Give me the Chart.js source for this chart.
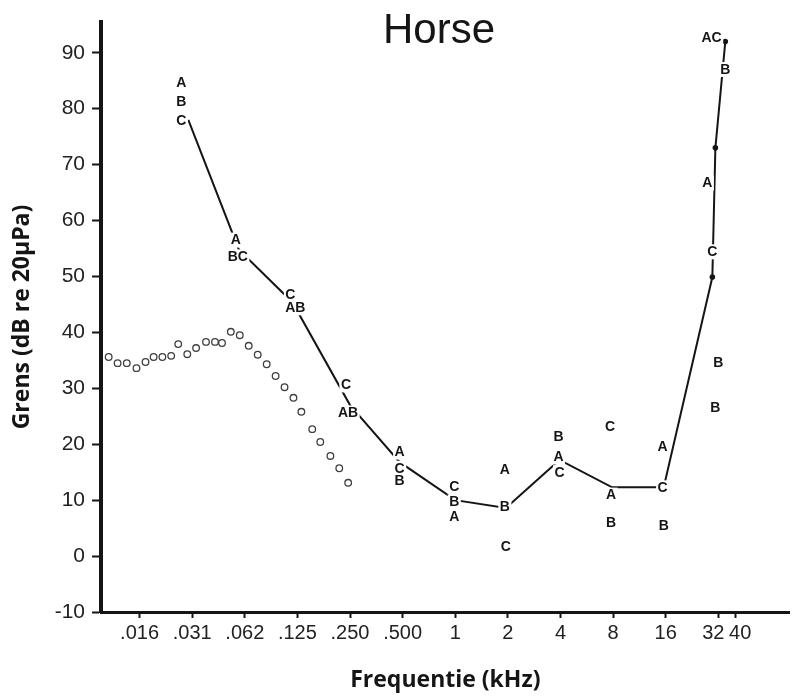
<!DOCTYPE html>
<html>
<head>
<meta charset="utf-8">
<script src="https://cdn.jsdelivr.net/npm/chart.js@4/dist/chart.umd.min.js"></script>
<style>
  html, body { margin: 0; padding: 0; background: #ffffff; }
  #wrap { width: 795px; height: 697px; }
</style>
</head>
<body>
<div id="wrap"><canvas id="c" width="795" height="697"></canvas></div>
<script>
// ---- data (kHz, dB re 20 µPa) ----
const chartTitle = 'Horse';
const xTitle = 'Frequentie (kHz)';
const yTitle = 'Grens (dB re 20µPa)';

const freqTicks = [0.015625, 0.03125, 0.0625, 0.125, 0.25, 0.5, 1, 2, 4, 8, 16, 32, 40];
const freqTickLabels = ['.016', '.031', '.062', '.125', '.250', '.500', '1', '2', '4', '8', '16', '32\u2002', '\u200240'];
const dbTicks = [-10, 0, 10, 20, 30, 40, 50, 60, 70, 80, 90];

// connected audiogram line
const lineFreq = [0.0297, 0.0578, 0.117, 0.25, 0.481, 1.0, 1.95, 3.95, 7.9, 15.6, 29.6, 30.8, 35.1];
const lineDb   = [78.0, 54.8, 45.4, 27.0, 16.8, 10.0, 8.6, 17.2, 12.3, 12.3, 49.9, 73.0, 92.0];

// open-circle series
const circleFreq = [0.0104, 0.0117, 0.0132, 0.0150, 0.0169, 0.0188, 0.0211, 0.0237, 0.0260, 0.0293,
                    0.0329, 0.0375, 0.0422, 0.0463, 0.0520, 0.0585, 0.0658, 0.0741, 0.0834, 0.0938,
                    0.1055, 0.1187, 0.1317, 0.152, 0.169, 0.193, 0.217, 0.244];
const circleDb   = [35.6, 34.5, 34.5, 33.6, 34.7, 35.6, 35.6, 35.8, 37.9, 36.1,
                    37.2, 38.3, 38.3, 38.1, 40.1, 39.5, 37.6, 36.0, 34.3, 32.2,
                    30.2, 28.3, 25.8, 22.7, 20.4, 17.9, 15.7, 13.1];

// individual animals (A, B, C)
const letterText = ['A', 'B', 'C',  'A', 'BC',  'C', 'AB',  'C', 'AB',  'A', 'C', 'B',
                    'C', 'B', 'A',  'A', 'B', 'C',  'B', 'A', 'C',  'C', 'A', 'B',
                    'A', 'C', 'B',  'AC', 'B', 'A', 'C', 'B', 'B'];
const letterFreq = [0.0271, 0.0271, 0.0271,  0.0556, 0.057,  0.114, 0.1217,  0.237, 0.2436,  0.481, 0.481, 0.481,
                    0.987, 0.987, 0.987,  1.923, 1.923, 1.95,  3.90, 3.90, 3.95,  7.7, 7.79, 7.79,
                    15.38, 15.38, 15.6,  29.3, 35.1, 27.7, 29.6, 32.0, 30.8];
const letterDb   = [84.6, 81.2, 77.8,  56.5, 53.5,  46.7, 44.4,  30.6, 25.6,  18.6, 15.7, 13.4,
                    12.5, 9.7, 7.0,  15.4, 8.8, 1.6,  21.3, 17.7, 14.9,  23.1, 10.9, 5.9,
                    19.5, 12.2, 5.4,  92.7, 87.0, 66.7, 54.4, 34.5, 26.5];

// ---- drawing ----
const ink = '#151515';

const overlayPlugin = {
  id: 'overlay',
  afterDatasetsDraw(chart) {
    const { ctx, scales } = chart;
    const xs = scales.x, ys = scales.y;
    ctx.save();
    ctx.font = 'bold 14px "Liberation Sans", Arial, sans-serif';
    ctx.textAlign = 'center';
    ctx.textBaseline = 'middle';
    letterText.forEach((t, i) => {
      const px = xs.getPixelForValue(letterFreq[i]);
      const py = ys.getPixelForValue(letterDb[i]);
      const w = ctx.measureText(t).width;
      ctx.fillStyle = '#ffffff';
      ctx.fillRect(px - w / 2 - 1.5, py - 7.5, w + 3, 15);
      ctx.fillStyle = ink;
      ctx.fillText(t, px, py + 0.5);
    });
    // title
    ctx.font = '42px "Liberation Sans", Arial, sans-serif';
    ctx.textAlign = 'center';
    ctx.textBaseline = 'alphabetic';
    ctx.fillStyle = ink;
    ctx.fillText(chartTitle, 439, 43);
    ctx.restore();
  }
};

new Chart(document.getElementById('c'), {
  type: 'scatter',
  data: {
    datasets: [
      {
        label: 'Drempel',
        data: lineFreq.map((f, i) => ({ x: f, y: lineDb[i] })),
        showLine: true,
        tension: 0,
        borderColor: ink,
        borderWidth: 2,
        pointRadius: (c) => (c.dataIndex >= 10 ? 2.8 : 0),
        pointBackgroundColor: ink,
        pointBorderWidth: 0
      },
      {
        label: 'Cirkels',
        data: circleFreq.map((f, i) => ({ x: f, y: circleDb[i] })),
        showLine: false,
        pointRadius: 3.3,
        pointBorderColor: '#3f3f3f',
        pointBackgroundColor: 'rgba(0,0,0,0)',
        pointBorderWidth: 1.3
      }
    ]
  },
  options: {
    responsive: false,
    animation: false,
    devicePixelRatio: 1,
    layout: { padding: { top: 22, right: 0, left: 0, bottom: 0 } },
    plugins: { legend: { display: false }, tooltip: { enabled: false }, title: { display: false } },
    scales: {
      x: {
        type: 'logarithmic',
        min: 0.0094,
        max: 82,
        afterBuildTicks: (s) => { s.ticks = freqTicks.map(v => ({ value: v })); },
        afterFit: (s) => { s.height = 85; },
        ticks: {
          autoSkip: false,
          maxRotation: 0,
          minRotation: 0,
          padding: 3,
          color: '#222',
          font: { family: '"Liberation Sans", Arial, sans-serif', size: 20 },
          callback: (v, i) => freqTickLabels[i]
        },
        grid: { drawOnChartArea: false, drawTicks: true, tickLength: 6, tickWidth: 2, tickColor: ink },
        border: { display: true, color: ink, width: 3 },
        title: {
          display: true,
          text: xTitle,
          color: ink,
          font: { family: '"Open Sans", sans-serif', weight: 'bold', size: 23 },
          padding: { top: 0, bottom: 3 }
        }
      },
      y: {
        min: -10,
        max: 95.5,
        afterBuildTicks: (s) => { s.ticks = dbTicks.map(v => ({ value: v })); },
        afterFit: (s) => { s.width = 101; },
        ticks: {
          padding: 7,
          color: '#222',
          font: { family: '"Liberation Sans", Arial, sans-serif', size: 21 },
          callback: (v, i) => String(dbTicks[i])
        },
        grid: { drawOnChartArea: false, drawTicks: true, tickLength: 9, tickWidth: 2, tickColor: ink },
        border: { display: true, color: ink, width: 4 },
        title: {
          display: true,
          text: yTitle,
          color: ink,
          font: { family: '"Open Sans", sans-serif', weight: 'bold', size: 23 },
          padding: { top: 9, bottom: 0 }
        }
      }
    }
  },
  plugins: [overlayPlugin]
});
</script>
</body>
</html>
